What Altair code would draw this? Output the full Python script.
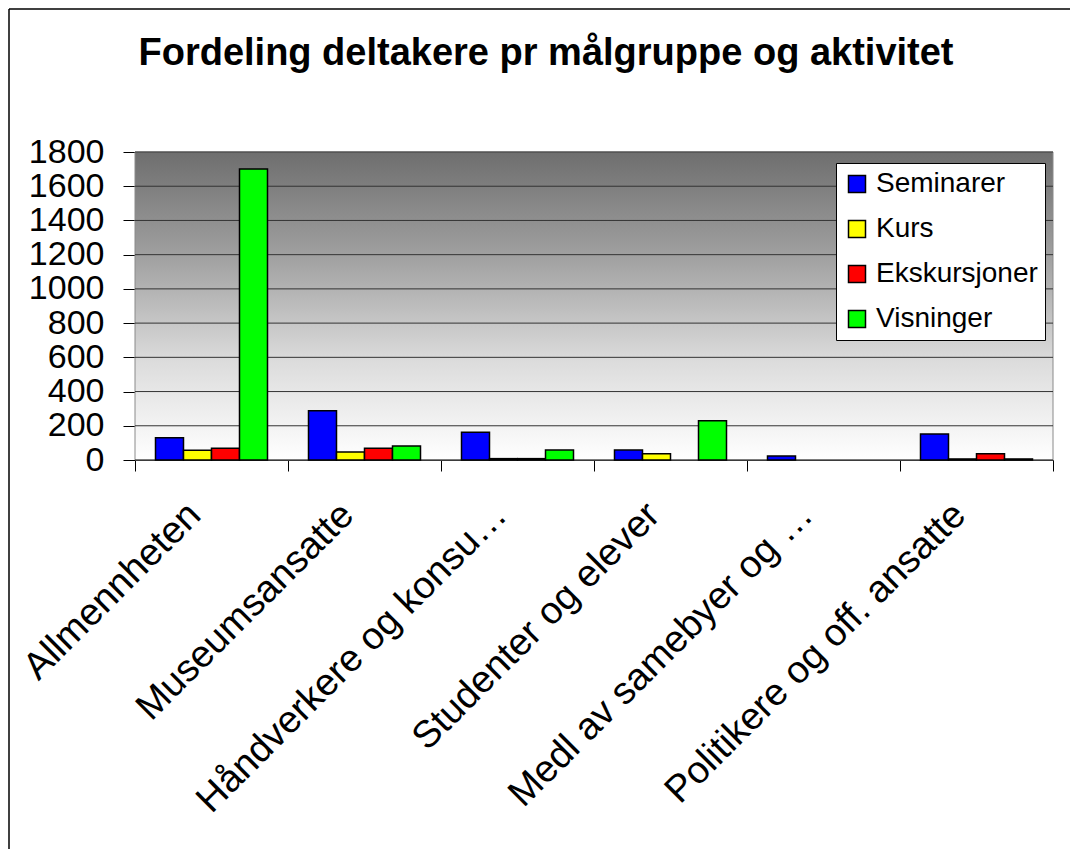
import altair as alt
import pandas as pd

categories = ["Allmennheten", "Museumsansatte", "Håndverkere og konsu…",
              "Studenter og elever", "Medl av samebyer og …", "Politikere og off. ansatte"]
series = ["Seminarer", "Kurs", "Ekskursjoner", "Visninger"]
seminarer = [130, 288, 162, 58, 23, 152]
kurs = [57, 47, 8, 37, 0, 6]
ekskursjoner = [68, 68, 8, 0, 0, 37]
visninger = [1700, 82, 58, 230, 0, 6]
colors = ["#0000FF", "#FFFF00", "#FF0000", "#00FF00"]
y_ticks = [0, 200, 400, 600, 800, 1000, 1200, 1400, 1600, 1800]
title_text = "Fordeling deltakere pr målgruppe og aktivitet"

rows = []
for s, vals in zip(series, [seminarer, kurs, ekskursjoner, visninger]):
    for c, v in zip(categories, vals):
        rows.append({"gruppe": c, "aktivitet": s, "antall": v})
df = pd.DataFrame(rows)

W, H = 918, 308
PAD = {"left": 127, "top": 144, "right": 17, "bottom": 389}
FONT = "Liberation Sans"

yenc = alt.Y("antall:Q",
             scale=alt.Scale(domain=[0, 1800], nice=False),
             axis=alt.Axis(values=y_ticks, format="d", labelOverlap=False, title=None,
                           grid=False, labelFontSize=34, labelFont=FONT,
                           labelColor="black", tickSize=12, labelPadding=19,
                           tickColor="black", domainColor="black"))

grad = alt.LinearGradient(
    gradient="linear",
    stops=[alt.GradientStop(color="#6e6e6e", offset=0),
           alt.GradientStop(color="#a2a2a2", offset=0.35),
           alt.GradientStop(color="#dcdcdc", offset=0.68),
           alt.GradientStop(color="#ffffff", offset=1)],
    x1=0, x2=0, y1=0, y2=1)

bg = alt.Chart(alt.Data(values=[{}])).mark_rect(
    color=grad, stroke="#8a8a8a", strokeWidth=1
).encode(x=alt.value(0), x2=alt.value(W), y=alt.value(0), y2=alt.value(H))

grid = alt.Chart(pd.DataFrame({"antall": y_ticks})).mark_rule(
    color="#333333", strokeWidth=1
).encode(y=yenc)

bars = alt.Chart(df).transform_filter("datum.antall > 0").mark_bar(
    stroke="black", strokeWidth=1.5
).encode(
    x=alt.X("gruppe:N", sort=categories,
            scale=alt.Scale(domain=categories, paddingInner=0, paddingOuter=0),
            axis=alt.Axis(title=None, labelAngle=-45, labelAlign="right",
                          labelBaseline="middle", labelFontSize=38, labelFont=FONT,
                          labelColor="black", labelPadding=38, labelLimit=2000,
                          labelOffset=-17, labelOverlap=False,
                          tickBand="extent", tickSize=11, tickColor="black",
                          domainColor="black", grid=False)),
    xOffset=alt.XOffset("aktivitet:N", sort=series,
                        scale=alt.Scale(domain=series, paddingInner=0, paddingOuter=0.732)),
    y=yenc,
    color=alt.Color("aktivitet:N", sort=series,
                    scale=alt.Scale(domain=series, range=colors),
                    legend=alt.Legend(title=None, orient="none", legendX=701, legendY=11,
                                      fillColor="white", strokeColor="black",
                                      padding=7, rowPadding=17, symbolType="square",
                                      symbolSize=289, symbolStrokeColor="black",
                                      symbolStrokeWidth=1.5, labelFontSize=28,
                                      labelFont=FONT, labelColor="black",
                                      labelOffset=5, labelLimit=400)),
)

title = alt.Chart(alt.Data(values=[{}])).mark_text(
    text=title_text, font=FONT, fontSize=38, fontWeight="bold", color="black",
    align="center", baseline="alphabetic"
).encode(x=alt.value(411), y=alt.value(-87))

left_edge = alt.Chart(alt.Data(values=[{}])).mark_rule(
    color="black", strokeWidth=1.5
).encode(x=alt.value(-PAD["left"] + 1), y=alt.value(-PAD["top"] + 1),
         y2=alt.value(H + PAD["bottom"]))

top_edge = alt.Chart(alt.Data(values=[{}])).mark_rule(
    color="black", strokeWidth=1.5
).encode(x=alt.value(-PAD["left"] + 1), x2=alt.value(W + PAD["right"]),
         y=alt.value(-PAD["top"] + 1))

chart = alt.layer(bg, grid, bars, title, left_edge, top_edge).properties(
    width=W, height=H,
    autosize=alt.AutoSizeParams(type="none"),
    padding=PAD,
    background="white",
).configure_view(stroke=None)

chart.save("out.html", embed_options={"renderer": "svg", "actions": False})
